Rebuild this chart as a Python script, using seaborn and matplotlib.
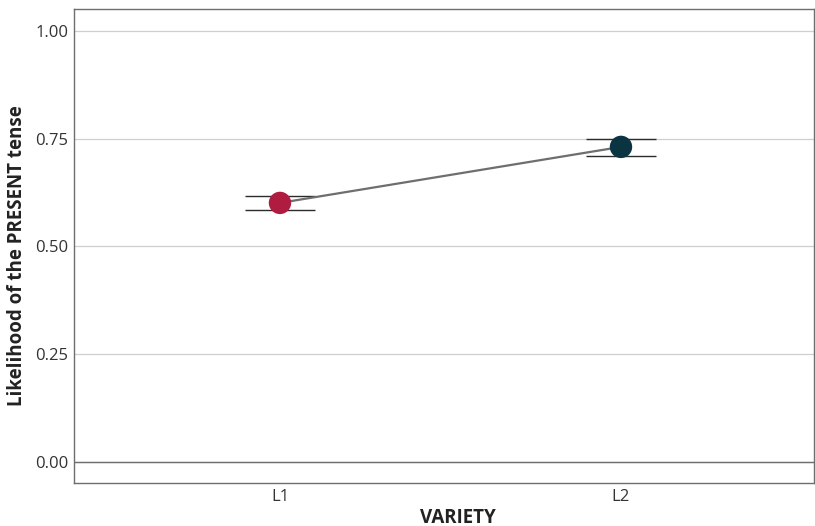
import matplotlib
matplotlib.use("Agg")
import matplotlib.pyplot as plt
import seaborn as sns
import pandas as pd

# Estimated likelihood of the present tense by variety, with confidence bounds
variety = ["L1", "L2"]
estimate = [0.601, 0.731]
lower = [0.585, 0.710]
upper = [0.617, 0.749]
colors = ["#B01C40", "#0B3443"]
y_ticks = [0.00, 0.25, 0.50, 0.75, 1.00]

df = pd.DataFrame({"VARIETY": variety, "est": estimate, "lo": lower, "hi": upper})
df["pos"] = range(len(df))

sns.set_theme(style="white")
plt.rcParams["font.family"] = ["Open Sans", "DejaVu Sans"]

fig = plt.figure(figsize=(8.15, 5.26), dpi=100)
ax = fig.add_axes([74 / 815, 43 / 526, 740 / 815, 474 / 526])

for y in y_ticks:
    ax.axhline(y, color="#cfcfcf", lw=0.9, zorder=0)
ax.axhline(0, color="#6e6e6e", lw=1.0, zorder=0.5)

# connecting line
sns.lineplot(data=df, x="pos", y="est", color="#6e6e6e", lw=1.6, ax=ax,
             zorder=2, legend=False)

# error bars with caps
for _, r in df.iterrows():
    ax.hlines([r["lo"], r["hi"]], r["pos"] - 0.102, r["pos"] + 0.102,
              color="#2b2b2b", lw=1.0, zorder=1)
    ax.vlines(r["pos"], r["lo"], r["hi"], color="#2b2b2b", lw=1.0, zorder=1)

sns.scatterplot(data=df, x="pos", y="est", hue="VARIETY", palette=colors,
                s=260, edgecolor="none", ax=ax, zorder=3, legend=False)

ax.set_xlim(-0.604, 1.566)
ax.set_ylim(-0.049, 1.051)
ax.set_xticks(df["pos"])
ax.set_xticklabels(variety)
ax.set_yticks(y_ticks)
ax.set_yticklabels([f"{v:.2f}" for v in y_ticks])
ax.tick_params(axis="both", length=0, labelsize=12, colors="#333333", pad=4)
ax.set_xlabel("VARIETY", fontsize=13.5, fontweight="bold", color="#222222")
ax.set_ylabel("Likelihood of the PRESENT tense", fontsize=13.5, fontweight="bold",
              color="#222222")
ax.xaxis.set_label_coords(0.519, -0.052)
ax.yaxis.set_label_coords(-0.064, 0.479)
for s in ax.spines.values():
    s.set_color("#6e6e6e")
    s.set_linewidth(1.0)

fig.savefig("out.png", dpi=100)
